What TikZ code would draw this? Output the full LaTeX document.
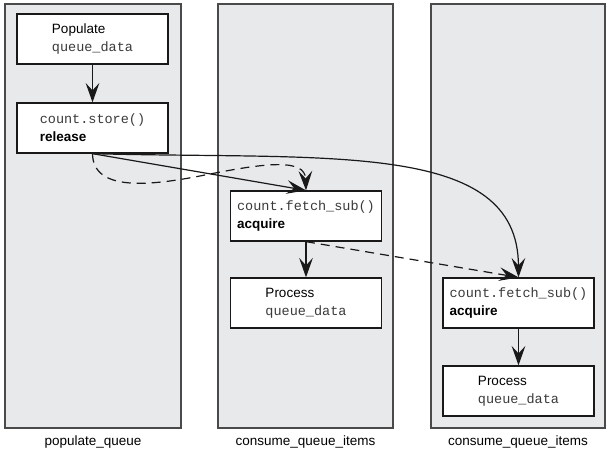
\documentclass[tikz,border=0pt]{standalone}
\usepackage{fontspec}
\setmainfont{Liberation Sans}
\setmonofont{Liberation Mono}
\usetikzlibrary{positioning}
\usetikzlibrary{arrows.meta}
\definecolor{lanefill}{HTML}{E8E9EB}
\definecolor{laneline}{HTML}{4A4A4A}
\definecolor{codegray}{HTML}{3A3A3A}
\tikzset{lane/.style={draw=laneline, line width=1.3pt, fill=lanefill, inner sep=0pt}}
\tikzset{opbox/.style={draw=black!90, line width=1.3pt, fill=white, minimum width=151pt, minimum height=50pt, align=left, inner sep=0pt}}
\tikzset{flow/.style={->, line width=1.2pt, draw=black!90}}
\tikzset{lanelabel/.style={inner sep=0pt}}
\newcommand{\code}[1]{\textcolor{codegray}{\texttt{#1}}}

\begin{document}
\begin{tikzpicture}[x=1pt, y=-1pt, font=\fontsize{13.5}{18}\selectfont,
    >={Stealth[length=0.68cm, width=0.48cm, inset=0.26cm]}]
    \useasboundingbox (0, 0) rectangle (608, 455);

    % the three threads
    \node[lane, minimum width=176pt, minimum height=424pt] (popLane) at (93, 216) {};
    \node[lane, minimum width=175pt, minimum height=424pt] (consLaneA) at (305.5, 216) {};
    \node[lane, minimum width=174pt, minimum height=424pt] (consLaneB) at (518, 216) {};

    \node[lanelabel, below=7pt of popLane] {populate\_queue};
    \node[lanelabel, below=7pt of consLaneA] {consume\_queue\_items};
    \node[lanelabel, below=7pt of consLaneB] {consume\_queue\_items};

    % populate thread
    \node[opbox] (populate) at (92.5, 39) {Populate\\\code{queue\_data}};
    \node[opbox] (store) at (92.5, 128) {\code{count.store()}\\\textbf{release}};

    % first consumer
    \node[opbox] (fetchA) at (306, 216) {\code{count.fetch\_sub()}\\\textbf{acquire}};
    \node[opbox] (processA) at (306, 303) {Process\\\code{queue\_data}};

    % second consumer
    \node[opbox] (fetchB) at (518.5, 303) {\code{count.fetch\_sub()}\\\textbf{acquire}};
    \node[opbox] (processB) at (518.5, 391) {Process\\\code{queue\_data}};

    \draw[flow] (populate) -- (store);
    \draw[flow] (fetchA) -- (processA);
    \draw[flow] (fetchB) -- (processB);

    \draw[flow] (store.south) -- (fetchA.north);
    \draw[flow, dash pattern=on 9pt off 6pt] (store.south)
        .. controls (93, 192) and (150, 186) .. (205, 175)
        .. controls (265, 163) and (305, 158) .. (fetchA.north);
    \draw[flow] (store.south)
        .. controls (330, 160) and (518, 140) .. (fetchB.north);
    \draw[flow, dash pattern=on 9pt off 6pt] (fetchA.south) -- (fetchB.north);

    % \draw[help lines] (0,0) grid[step=50] (608,455);
\end{tikzpicture}
\end{document}
